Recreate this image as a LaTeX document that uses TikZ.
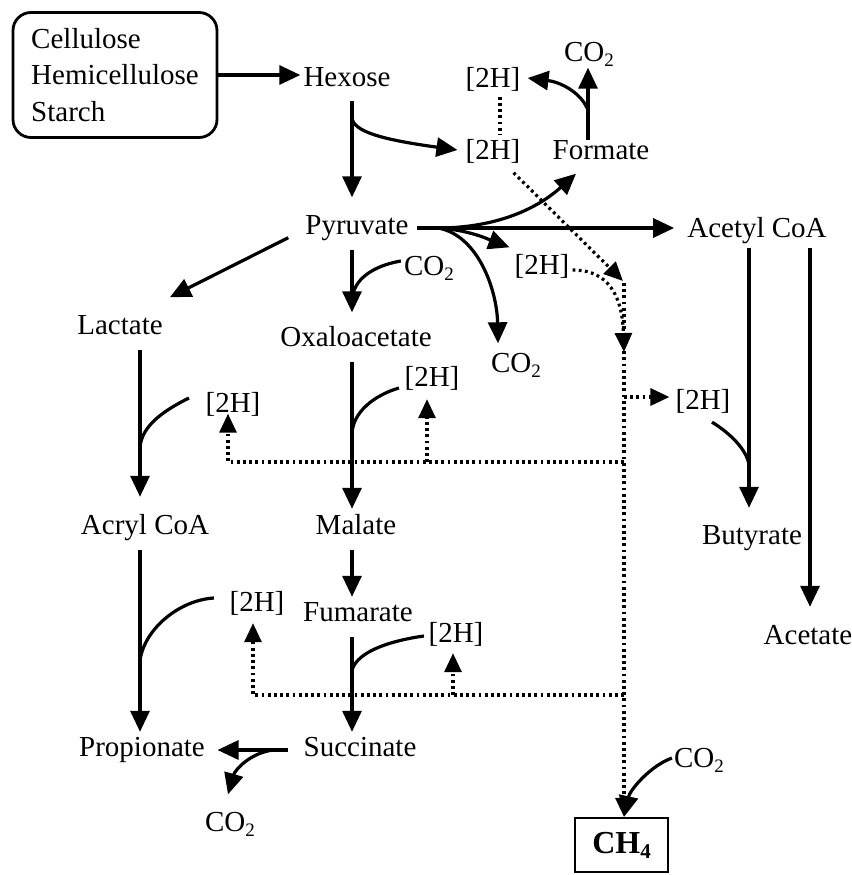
\documentclass[tikz,border=0pt]{standalone}
\usepackage{fontspec}
\setmainfont{Liberation Serif}
\usetikzlibrary{arrows.meta}
\newcommand\lsub[1]{\raisebox{-5pt}{\fontsize{19}{19}\selectfont #1}}
\tikzset{
  lbl/.style={inner sep=0pt, text height=19pt, text depth=6pt},
  ln/.style={line width=3.2pt},
  arr/.style={ln, -{Triangle[length=21pt,width=19pt]}},
  dotln/.style={line width=3.2pt, dash pattern=on 2.8pt off 3.4pt},
  darr/.style={dotln, -{Triangle[length=19pt,width=17pt]}},
}
\begin{document}
\begin{tikzpicture}[x=1pt, y=-1pt, font=\fontsize{29}{34}\selectfont]
\useasboundingbox (0,0) rectangle (851,875);
% columns
\coordinate (cA) at (140,0);
\coordinate (cB) at (352,0);
\coordinate (cC) at (624,0);
\coordinate (cD) at (749,0);
\coordinate (cE) at (810,0);
\coordinate (cF) at (588,0);
% nodes
\node[draw, line width=2.8pt, rounded corners=18pt, minimum width=204pt, minimum height=125pt,
      inner sep=0pt, align=left, font=\fontsize{29}{36.5}\selectfont] (src) at (115,75)
      {Cellulose\\Hemicellulose\\Starch};
\node[lbl] (hex)  at (347,80)  {Hexose};
\node[lbl] (h2a)  at (493,81)  {[2H]};
\node[lbl] (co2a) at (589,55)  {CO\lsub{2}};
\node[lbl] (h2b)  at (493,153) {[2H]};
\node[lbl] (form) at (601,153) {Formate};
\node[lbl] (pyr)  at (357,228) {Pyruvate};
\node[lbl] (acoa) at (757,231) {Acetyl CoA};
\node[lbl] (h2c)  at (542,268) {[2H]};
\node[lbl] (co2b) at (429,269) {CO\lsub{2}};
\node[lbl] (lac)  at (120,328) {Lactate};
\node[lbl] (oxa)  at (356,340) {Oxaloacetate};
\node[lbl] (co2c) at (516,366) {CO\lsub{2}};
\node[lbl] (h2d)  at (432,380) {[2H]};
\node[lbl] (h2e)  at (233,406) {[2H]};
\node[lbl] (h2f)  at (703,403) {[2H]};
\node[lbl] (acr)  at (145,528) {Acryl CoA};
\node[lbl] (mal)  at (356,528) {Malate};
\node[lbl] (buty) at (752,538) {Butyrate};
\node[lbl] (h2g)  at (257,605) {[2H]};
\node[lbl] (fum)  at (358,615) {Fumarate};
\node[lbl] (h2h)  at (456,636) {[2H]};
\node[lbl] (acet) at (808,638) {Acetate};
\node[lbl] (prop) at (142,750) {Propionate};
\node[lbl] (succ) at (360,750) {Succinate};
\node[lbl] (co2d) at (230,825) {CO\lsub{2}};
\node[lbl] (co2e) at (699,761) {CO\lsub{2}};
\node[draw, line width=2.2pt, minimum width=93pt, minimum height=54pt, inner sep=0pt,
      font=\bfseries\fontsize{32}{36}\selectfont] (ch4) at (621.5,845)
      {CH\raisebox{-5pt}{\fontsize{21}{21}\selectfont 4}};
% junctions
\coordinate (j1) at (352,117);
\coordinate (j2) at (587,108);
\coordinate (j3) at (438,228);
\coordinate (j4) at (352,300);
\coordinate (j5) at (352,435);
\coordinate (j6) at (140,447);
\coordinate (j7) at (749,465);
\coordinate (j8) at (352,670);
\coordinate (j9) at (140,660);
\coordinate (j10) at (273,750);
\coordinate (d0) at (624,283);
\coordinate (d1) at (623,281);
\coordinate (d2) at (624,352);
\coordinate (d3) at (624,462);
\coordinate (d4) at (624,397);
\coordinate (d5) at (624,695);
% solid connectors
\draw[arr, shorten >=3pt] (src.east) -- (src.east -| hex.west);
\draw[arr, shorten <=8pt, shorten >=18pt] (hex.south -| cB) -- (pyr.north -| cB);
\draw[arr] (j1) .. controls (352,132) and (385,140) .. ([xshift=-8pt,yshift=3pt]h2b.west);
\draw[arr] (form.north -| cF) -- (co2a.south -| cF);
\draw[arr] (j2) .. controls (580,92) and (560,82) .. ([xshift=7pt,yshift=3pt]h2a.east);
\draw[arr, shorten <=8pt, shorten >=13pt] (pyr.east) -- (pyr.east -| acoa.west);
\draw[arr] (j3) .. controls (485,228) and (530,215) .. ([xshift=-25pt,yshift=-8pt]form.south);
\draw[arr] (j3) .. controls (470,230) and (490,240) .. ([xshift=-5pt,yshift=8pt]h2c.north west);
\draw[arr] (j3) .. controls (478,235) and (497,290) .. ([xshift=-18pt,yshift=10pt]co2c.north);
\draw[arr] ([xshift=-17pt,yshift=3pt]pyr.south west) -- ([xshift=7pt,yshift=18pt]lac.north east);
\draw[arr, shorten <=9.5pt, shorten >=15pt] (pyr.south -| cB) -- (oxa.north -| cB);
\draw[ln] ([xshift=-3pt,yshift=8pt]co2b.west) .. controls (372,266) and (353,280) .. (j4);
\draw[arr, shorten <=9.5pt, shorten >=6.5pt] (oxa.south -| cB) -- (mal.north -| cB);
\draw[ln] ([xshift=-5.5pt,yshift=-8pt]h2d.west) .. controls (375,395) and (352,412) .. (j5);
\draw[arr, shorten <=9.5pt, shorten >=18.5pt] (lac.south -| cA) -- (acr.north -| cA);
\draw[ln] ([xshift=-16.5pt,yshift=8pt]h2e.west) .. controls (165,410) and (142,425) .. (j6);
\draw[arr, shorten <=4.5pt, shorten >=17.5pt] (acoa.south -| cD) -- (buty.north -| cD);
\draw[ln] ([xshift=9pt,yshift=-6.5pt]h2f.south) .. controls (730,433) and (747,450) .. (j7);
\draw[arr, shorten <=4.5pt, shorten >=18.5pt] (acoa.south -| cE) -- (acet.north -| cE);
\draw[arr, shorten <=9.5pt, shorten >=5.5pt] (mal.south -| cB) -- (fum.north -| cB);
\draw[arr, shorten <=9.5pt, shorten >=5.5pt] (fum.south -| cB) -- (succ.north -| cB);
\draw[ln] ([xshift=-4.5pt]h2h.west) .. controls (395,640) and (358,650) .. (j8);
\draw[arr, shorten <=9.5pt, shorten >=5.5pt] (acr.south -| cA) -- (prop.north -| cA);
\draw[ln] ([xshift=-15.5pt,yshift=7pt]h2g.west) .. controls (180,600) and (145,628) .. (j9);
\draw[arr, shorten <=15.5pt, shorten >=12.5pt] (succ.west) -- (prop.east);
\draw[arr] (j10) .. controls (250,753) and (235,770) .. ([xshift=-2pt,yshift=18pt]co2d.north);
\draw[arr] ([xshift=-2pt,yshift=3pt]co2e.west) .. controls (650,766) and (630,790) .. (ch4.north -| cC);
% dotted connectors
\draw[dotln, shorten <=3pt, shorten >=5pt] ([xshift=7pt]h2a.south) -- ([xshift=7pt]h2b.north);
\draw[darr] ([xshift=-7pt,yshift=-7pt]h2b.south east) -- (d1);
\draw[darr] ([xshift=3pt,yshift=-2pt]h2c.east) .. controls (600,270) and (622,285) .. (d2);
\draw[darr] (d0) -- (ch4.north -| cC);
\draw[darr] (d3) -- ([xshift=-5pt]h2e.south |- d3) -- ([xshift=-5pt,yshift=5pt]h2e.south);
\draw[darr] ([xshift=-5pt]h2d.south |- d3) -- ([xshift=-5pt,yshift=-6.5pt]h2d.south);
\draw[darr] (d4) -- ([xshift=-6pt,yshift=6pt]h2f.west);
\draw[darr] (d5) -- ([xshift=-4pt]h2g.south |- d5) -- ([xshift=-4pt,yshift=-5.5pt]h2g.south);
\draw[darr] ([xshift=-3pt]h2h.south |- d5) -- ([xshift=-3pt,yshift=-4.5pt]h2h.south);
\end{tikzpicture}
\end{document}
